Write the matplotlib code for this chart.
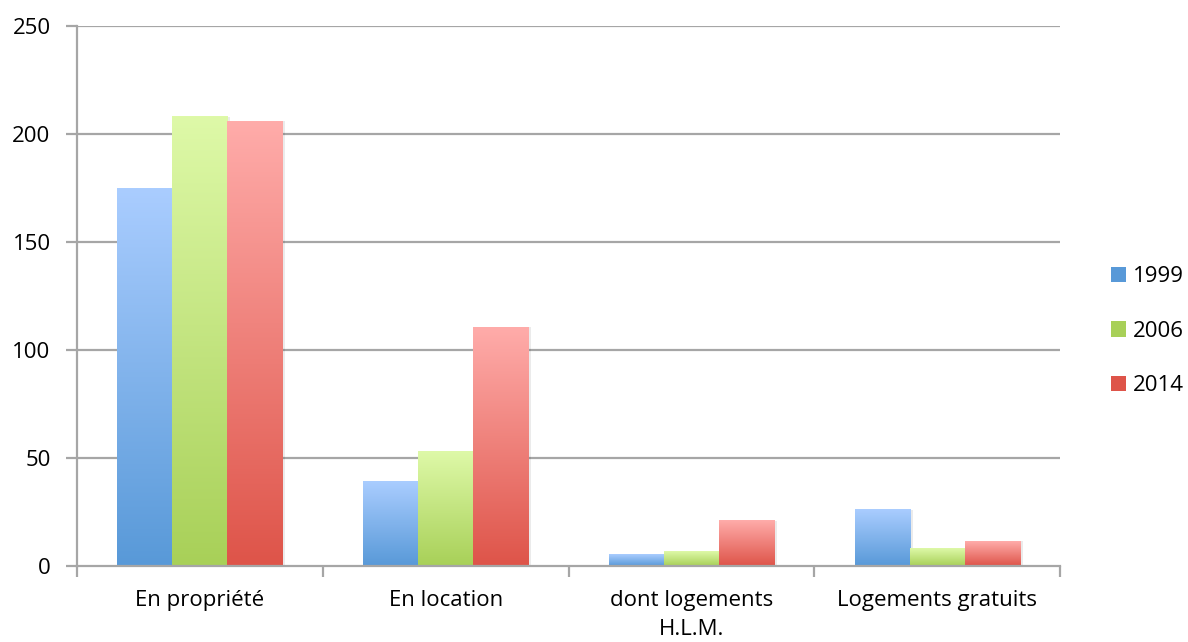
import numpy as np
import matplotlib.pyplot as plt
from matplotlib.colors import LinearSegmentedColormap
from matplotlib.patches import Rectangle

categories = ['En propriété', 'En location', 'dont logements\nH.L.M.', 'Logements gratuits']
years = ['1999', '2006', '2014']
v1999 = [175, 39, 5.5, 26]
v2006 = [208, 53, 6.5, 8.3]
v2014 = [206, 110.5, 21, 11.5]

# couleurs haut / bas du dégradé
grad = [('#aacdff', '#5899d8'), ('#def9a8', '#a8d058'), ('#ffacaa', '#de5449')]

plt.rcParams['font.family'] = ['Open Sans', 'DejaVu Sans']

fig = plt.figure(figsize=(11.88, 6.42), dpi=100)
ax = fig.add_axes([0.0648, 0.1184, 0.8275, 0.8411])

bw = 0.224
x = np.arange(len(categories))
series = [v1999, v2006, v2014]
grid_col = '#a6a6a6'

for y in [50, 100, 150, 200, 250]:
    ax.axhline(y, color=grid_col, lw=1.6, zorder=0)

for i, vals in enumerate(series):
    cmap = LinearSegmentedColormap.from_list('g%d' % i, [grad[i][1], grad[i][0]])
    for j, v in enumerate(vals):
        x0 = x[j] + (i - 1) * bw - bw / 2
        # ombre légère à droite
        ax.add_patch(Rectangle((x0 + 0.012, 0), bw, v, facecolor='#000000', alpha=0.08,
                               edgecolor='none', zorder=1))
        g = np.linspace(0, 1, 256).reshape(-1, 1)
        ax.imshow(g, extent=[x0, x0 + bw, 0, v], origin='lower', cmap=cmap,
                  aspect='auto', zorder=2, vmin=0, vmax=1)

ax.set_xlim(-0.5, len(categories) - 0.5)
ax.set_ylim(0, 250)
ax.set_yticks([0, 50, 100, 150, 200, 250])

for s in ['top', 'right']:
    ax.spines[s].set_visible(False)
for s in ['left', 'bottom']:
    ax.spines[s].set_color(grid_col)
    ax.spines[s].set_linewidth(1.6)

ax.set_xticks(np.arange(-0.5, len(categories), 1.0))
ax.set_xticklabels([])
ax.set_xticks(x, minor=True)
ax.set_xticklabels(categories, minor=True, fontsize=16, linespacing=1.55)
ax.tick_params(axis='x', which='major', length=8, width=1.6, color=grid_col)
ax.tick_params(axis='x', which='minor', length=0, pad=17)
ax.tick_params(axis='y', length=8, width=1.6, color=grid_col, labelsize=16, pad=11)

handles = [Rectangle((0, 0), 1, 1, facecolor=grad[i][1], edgecolor='none') for i in range(3)]
fig.legend(handles, years, loc='center left', bbox_to_anchor=(0.918, 0.484),
           frameon=False, fontsize=16, handlelength=0.7, handleheight=0.7,
           handletextpad=0.3, labelspacing=1.5)

fig.savefig('out.png', dpi=100)
